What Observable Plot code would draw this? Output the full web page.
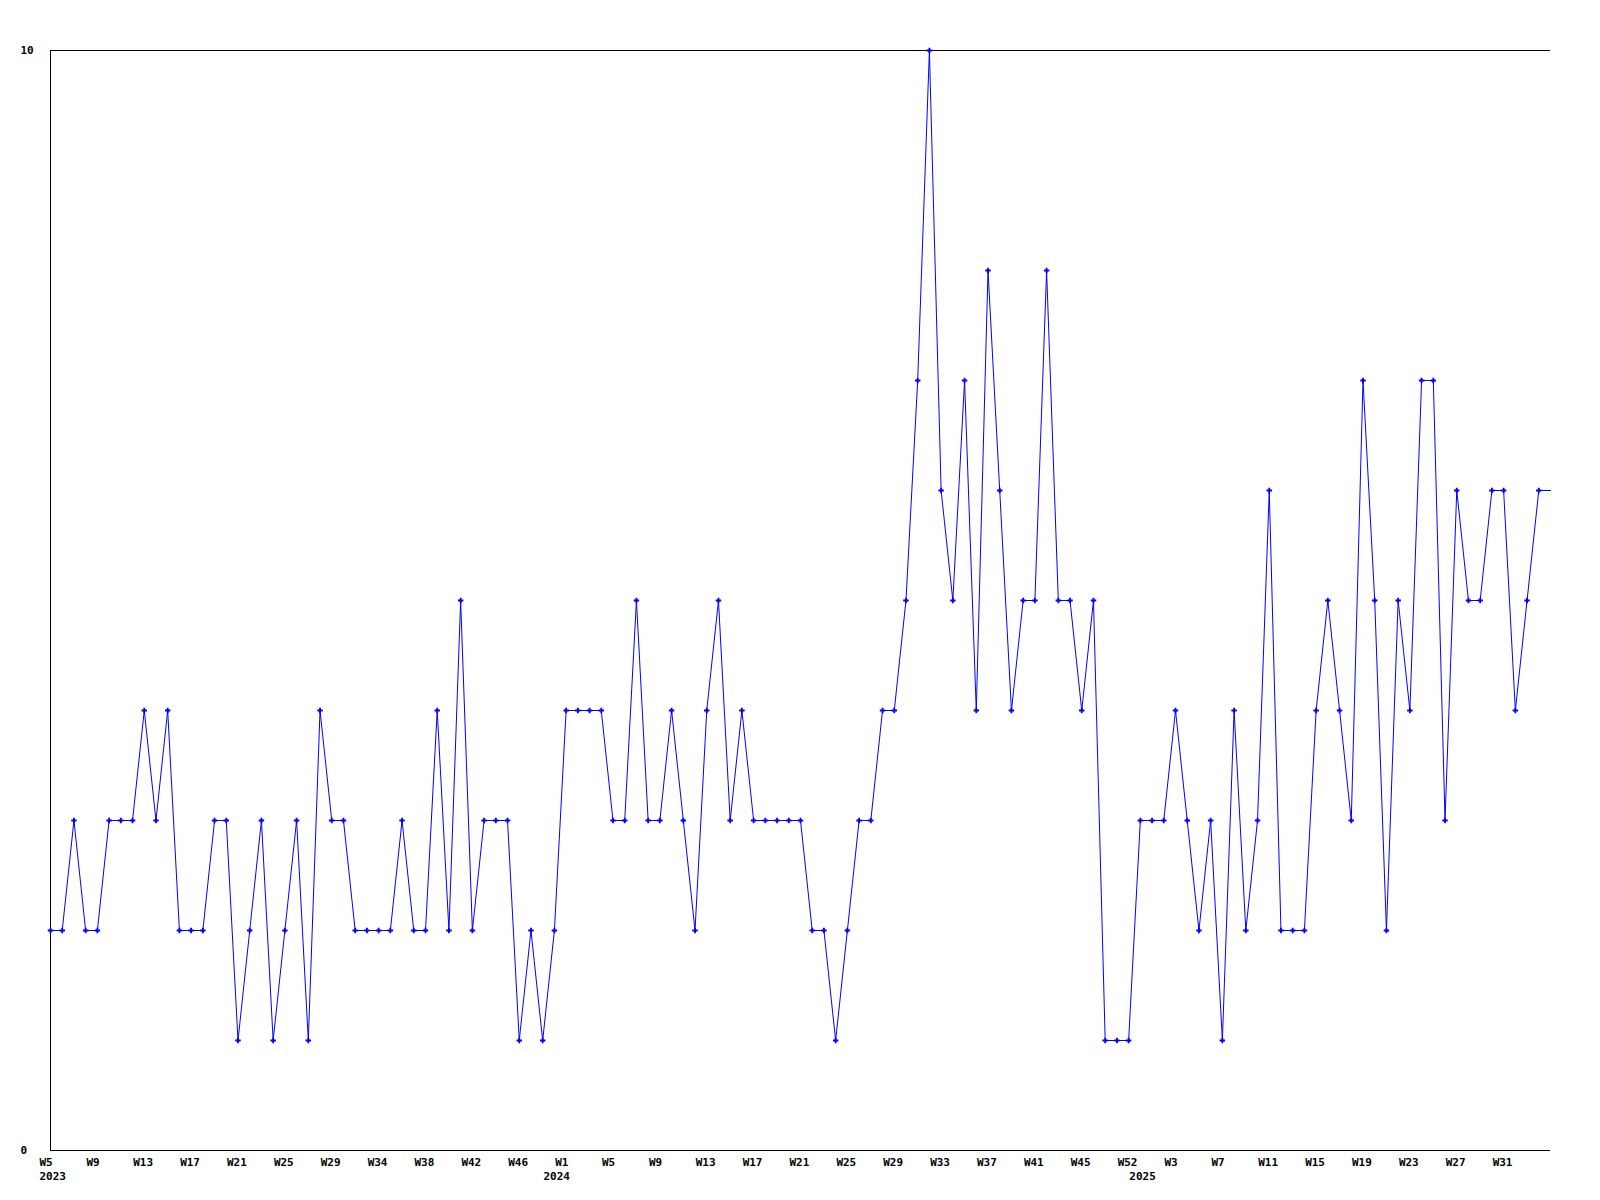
<!DOCTYPE html>
<html>
<head>
<meta charset="utf-8">
<script src="https://cdn.jsdelivr.net/npm/d3@7"></script>
<script src="https://cdn.jsdelivr.net/npm/@observablehq/plot@0.6"></script>
<style>
  html, body { margin: 0; padding: 0; background: #ffffff; }
  #chart svg { display: block; }
</style>
</head>
<body>
<div id="chart"></div>
<script>
// Weekly counts, 2023 W5 onwards (one value per week, in order)
const weeklyValues = [
  2,2,3,2,2,3,3,3,4,3,
  4,2,2,2,3,3,1,2,3,1,
  2,3,1,4,3,3,2,2,2,2,
  3,2,2,4,2,5,2,3,3,3,
  1,2,1,2,4,4,4,4,3,3,
  5,3,3,4,3,2,4,5,3,4,
  3,3,3,3,3,2,2,1,2,3,
  3,4,4,5,7,10,6,5,7,4,
  8,6,4,5,5,8,5,5,4,5,
  1,1,1,3,3,3,4,3,2,3,
  1,4,2,3,6,2,2,2,4,5,
  4,3,7,5,2,5,4,7,7,3,
  6,5,5,6,6,4,5,6
];
// Current (partial) week: the line runs on to it without a marker
const currentWeekValue = 6;

// Week tick labels, one every 4 weeks starting at the first week
const weekTickLabels = [
  "W5","W9","W13","W17","W21","W25","W29","W34","W38","W42","W46",
  "W1","W5","W9","W13","W17","W21","W25","W29","W33","W37","W41","W45","W52",
  "W3","W7","W11","W15","W19","W23","W27","W31"
];
const yearLabels = ["2023", "2024", "2025"];
const yearStartIndex = [0, 43, 93];
const yTickValues = [0, 10];

const points = weeklyValues.map((v, i) => ({i, v}));
const linePoints = points.concat([{i: weeklyValues.length, v: currentWeekValue}]);
const weekTickIndex = weekTickLabels.map((_, k) => k * 4);
const weekLabelMap = new Map(weekTickIndex.map((t, k) => [t, weekTickLabels[k]]));
const yearLabelMap = new Map(yearStartIndex.map((t, k) => [t, yearLabels[k]]));

const chart = Plot.plot({
  width: 1600,
  height: 1200,
  marginLeft: 50,
  marginRight: 50,
  marginTop: 50,
  marginBottom: 50,
  style: {
    fontFamily: "'DejaVu Sans Mono', 'Liberation Mono', monospace",
    fontSize: "11px",
    fontWeight: "bold",
    background: "#ffffff",
    color: "#000000"
  },
  x: {type: "linear", domain: [0, weeklyValues.length]},
  y: {type: "linear", domain: [0, 10]},
  marks: [
    Plot.ruleY([0, 10], {stroke: "#000000", strokeWidth: 1}),
    Plot.ruleX([0], {stroke: "#000000", strokeWidth: 1}),
    Plot.axisY({
      ticks: yTickValues, tickSize: 0, tickPadding: 3,
      textAnchor: "start", dx: -27, label: null
    }),
    Plot.axisX({
      ticks: weekTickIndex, tickSize: 0, tickPadding: 12,
      lineAnchor: "middle", textAnchor: "start", dx: -11,
      tickFormat: d => weekLabelMap.get(d), label: null
    }),
    Plot.axisX({
      ticks: yearStartIndex, tickSize: 0, tickPadding: 26,
      lineAnchor: "middle", textAnchor: "start", dx: -11,
      tickFormat: d => yearLabelMap.get(d), label: null
    }),
    Plot.line(linePoints, {x: "i", y: "v", stroke: "#0000ff", strokeWidth: 1}),
    Plot.dot(points, {x: "i", y: "v", symbol: "cross", r: 2.3, fill: "#0000ff", stroke: "none"})
  ]
});
document.getElementById("chart").appendChild(chart);
</script>
</body>
</html>
